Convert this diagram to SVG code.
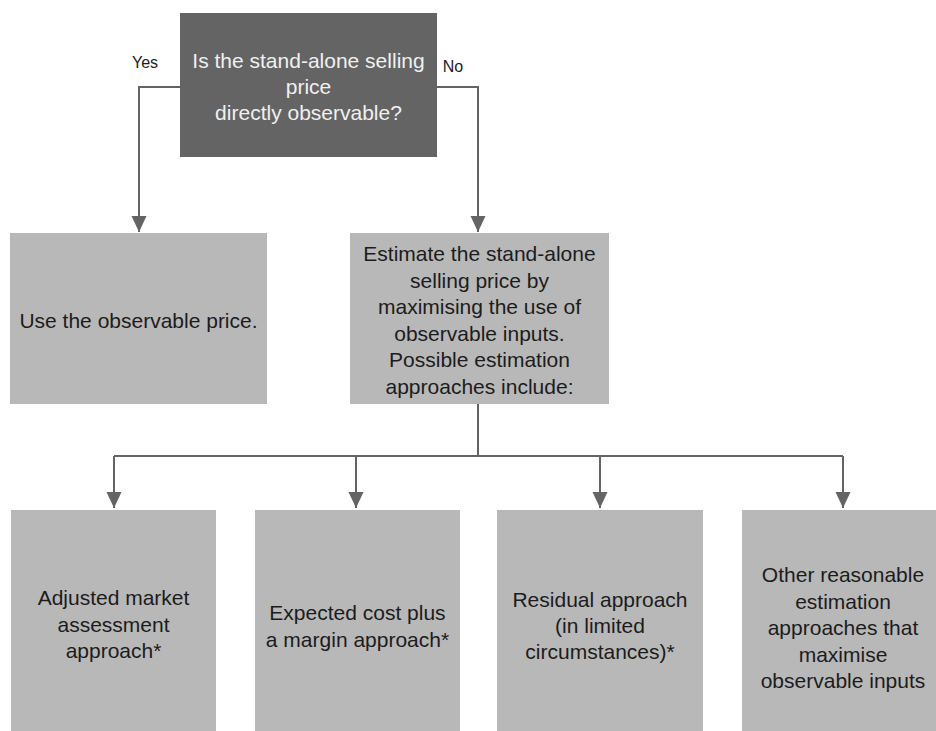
<svg xmlns="http://www.w3.org/2000/svg" width="936" height="731" viewBox="0 0 936 731">
<style>
.box{fill:#b8b8b8}
.dark{fill:#646464}
.t{font-family:"Liberation Sans",Arial,sans-serif;font-size:21px;fill:#1c1c1c;text-anchor:middle}
.tw{font-family:"Liberation Sans",Arial,sans-serif;font-size:21px;fill:#f0f0f0;text-anchor:middle}
.lbl{font-family:"Liberation Sans",Arial,sans-serif;font-size:16px;fill:#1c1c1c;text-anchor:middle}
.c{fill:none;stroke:#646464;stroke-width:2}
</style>
<defs>
<marker id="arr" markerUnits="userSpaceOnUse" markerWidth="16" markerHeight="16" refX="16" refY="7.5" orient="auto" viewBox="0 0 16 15">
<path d="M0,0 L16,7.5 L0,15 Z" fill="#646464"/>
</marker>
</defs>
<rect width="936" height="731" fill="#ffffff"/>
<g id="connectors">
<path class="c" d="M180,87 H139 V232" marker-end="url(#arr)"/>
<path class="c" d="M437,87 H478 V232" marker-end="url(#arr)"/>
<path class="c" d="M478,404 V456"/>
<path class="c" d="M114,456 H843"/>
<path class="c" d="M114,456 V508" marker-end="url(#arr)"/>
<path class="c" d="M356,456 V508" marker-end="url(#arr)"/>
<path class="c" d="M600,456 V508" marker-end="url(#arr)"/>
<path class="c" d="M843,456 V508" marker-end="url(#arr)"/>
<text class="lbl" x="145" y="68">Yes</text>
<text class="lbl" x="453" y="72">No</text>
</g>
<g id="question">
<rect class="dark" x="180" y="13" width="257" height="144"/>
<text class="tw" x="308.5" y="68">Is the stand-alone selling</text>
<text class="tw" x="308.5" y="94">price</text>
<text class="tw" x="308.5" y="120">directly observable?</text>
</g>
<g id="use-observable">
<rect class="box" x="10" y="233" width="257" height="171"/>
<text class="t" x="138.5" y="328">Use the observable price.</text>
</g>
<g id="estimate">
<rect class="box" x="350" y="233" width="259" height="171"/>
<text class="t" x="479.5" y="261">Estimate the stand-alone</text>
<text class="t" x="479.5" y="287.5">selling price by</text>
<text class="t" x="479.5" y="314">maximising the use of</text>
<text class="t" x="479.5" y="340.5">observable inputs.</text>
<text class="t" x="479.5" y="367">Possible estimation</text>
<text class="t" x="479.5" y="394">approaches include:</text>
</g>
<g id="adjusted-market">
<rect class="box" x="11" y="510" width="205" height="221"/>
<text class="t" x="113.5" y="605">Adjusted market</text>
<text class="t" x="113.5" y="631.5">assessment</text>
<text class="t" x="113.5" y="658">approach*</text>
</g>
<g id="expected-cost">
<rect class="box" x="255" y="510" width="205" height="221"/>
<text class="t" x="357.5" y="620">Expected cost plus</text>
<text class="t" x="357.5" y="646.5">a margin approach*</text>
</g>
<g id="residual">
<rect class="box" x="497" y="510" width="206" height="221"/>
<text class="t" x="600" y="607">Residual approach</text>
<text class="t" x="600" y="633">(in limited</text>
<text class="t" x="600" y="659">circumstances)*</text>
</g>
<g id="other">
<rect class="box" x="742" y="510" width="202" height="221"/>
<text class="t" x="843" y="582">Other reasonable</text>
<text class="t" x="843" y="608.5">estimation</text>
<text class="t" x="843" y="635">approaches that</text>
<text class="t" x="843" y="661.5">maximise</text>
<text class="t" x="843" y="688">observable inputs</text>
</g>
</svg>
